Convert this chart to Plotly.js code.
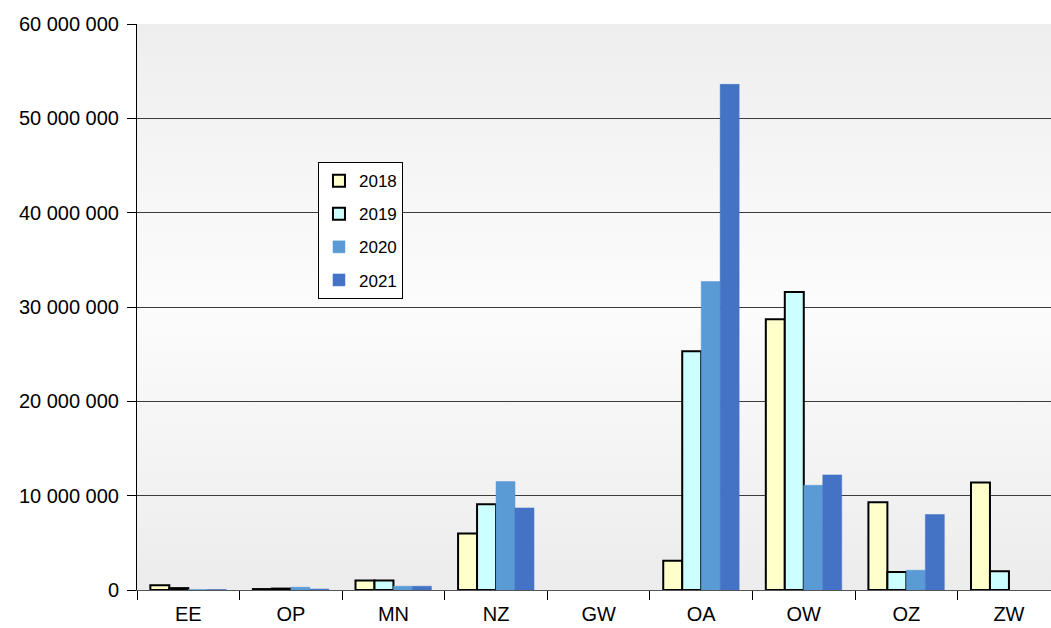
<!DOCTYPE html>
<html>
<head>
<meta charset="utf-8">
<script src="https://cdn.plot.ly/plotly-3.0.1.min.js"></script>
<style>
html,body{margin:0;padding:0;background:#fff;}
#chart{width:1051px;height:628px;}
</style>
</head>
<body>
<div id="chart"></div>
<script>
const categories = ["EE","OP","MN","NZ","GW","OA","OW","OZ","ZW"];
const years = ["2018","2019","2020","2021"];
const v2018 = [500000, 100000, 1000000, 6000000, null, 3100000, 28700000, 9300000, 11400000];
const v2019 = [200000, 150000, 1000000, 9100000, null, 25300000, 31600000, 1900000, 2000000];
const v2020 = [50000, 300000, 400000, 11500000, null, 32700000, 11100000, 2100000, null];
const v2021 = [50000, 100000, 400000, 8700000, null, 53600000, 12200000, 8000000, null];

const series = [v2018, v2019, v2020, v2021];
const fills = ["#ffffcc", "#ccffff", "#5b9bd5", "#4472c4"];
const lines = ["#000000", "#000000", "#5b9bd5", "#4472c4"];
const lineW = [2, 2, 0.5, 0.5];

const traces = series.map((vals, i) => ({
  type: "bar",
  name: years[i],
  x: categories,
  y: vals,
  legendgroup: "g" + i,
  marker: {color: fills[i], line: {color: lines[i], width: lineW[i]}},
  hoverinfo: "x+y+name"
}));

const svg = '<svg xmlns="http://www.w3.org/2000/svg" width="100" height="100" preserveAspectRatio="none">' +
  '<defs><linearGradient id="g" x1="0" y1="0" x2="0" y2="1">' +
  '<stop offset="0" stop-color="#eeeeee"/><stop offset="0.5" stop-color="#fcfcfc"/><stop offset="1" stop-color="#ececec"/>' +
  '</linearGradient></defs><rect width="100" height="100" fill="url(#g)"/></svg>';
const bgUri = "data:image/svg+xml;charset=utf-8," + encodeURIComponent(svg);

const layout = {
  width: 1051, height: 628,
  margin: {l: 137, r: 0, t: 24, b: 38, pad: 0},
  paper_bgcolor: "#ffffff",
  plot_bgcolor: "rgba(0,0,0,0)",
  font: {family: "Liberation Sans, Arial, sans-serif", size: 20, color: "#000"},
  separators: ". ",
  barmode: "group",
  bargap: 0.26,
  bargroupgap: 0,
  showlegend: true,
  legend: {
    x: 0.198, y: 0.756, xanchor: "left", yanchor: "top",
    bgcolor: "#ffffff", bordercolor: "#000000", borderwidth: 1,
    font: {size: 17, color: "#000"},
    traceorder: "grouped", tracegroupgap: 8,
    itemwidth: 30
  },
  xaxis: {
    range: [-0.5, 8.41],
    showline: true, linecolor: "#555555", linewidth: 1,
    ticks: "outside", tickson: "boundaries", ticklen: 9, tickcolor: "#000",
    showgrid: false, zeroline: false,
    ticklabelstandoff: 6,
    tickfont: {size: 20}
  },
  yaxis: {
    range: [0, 60000000],
    dtick: 10000000, tickformat: ",d",
    showline: true, linecolor: "#000000", linewidth: 1,
    ticks: "outside", ticklen: 9, tickcolor: "#000",
    showgrid: true, gridcolor: "#3c3c3c", gridwidth: 1,
    zeroline: false,
    ticklabelstandoff: 4,
    tickfont: {size: 20}
  },
  images: [{
    source: bgUri, xref: "paper", yref: "paper", x: 0, y: 1,
    sizex: 1, sizey: 1, xanchor: "left", yanchor: "top",
    sizing: "stretch", layer: "below"
  }]
};

Plotly.newPlot("chart", traces, layout, {displayModeBar: false, staticPlot: true});
</script>
</body>
</html>
